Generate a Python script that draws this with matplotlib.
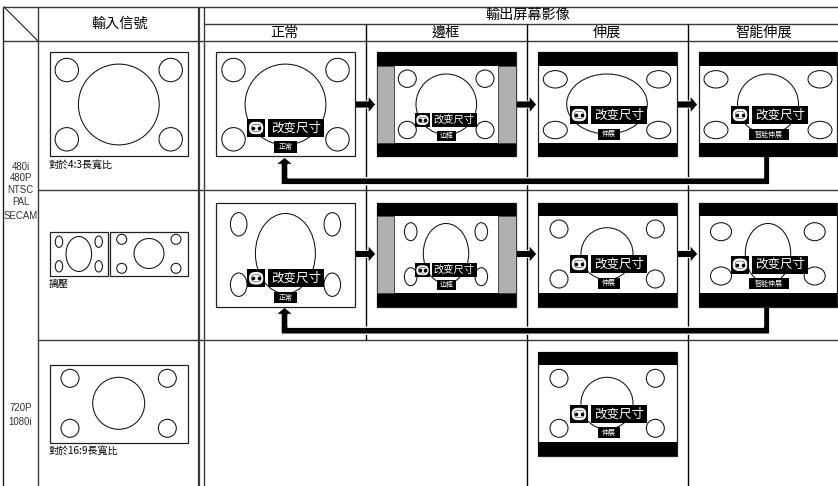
import matplotlib
matplotlib.use('Agg')
import matplotlib.pyplot as plt
from matplotlib.patches import Rectangle, Ellipse, FancyBboxPatch, Polygon

CJK = ['Noto Sans CJK TC', 'DejaVu Sans']
CJK_SC = ['Noto Sans CJK SC', 'DejaVu Sans']
LATIN = 'Liberation Sans'
GREY = '#3a3a3a'

# text
input_header = '輸入信號'
output_header = '輸出屏幕影像'
mode_names = ['正常', '邊框', '伸展', '智能伸展']
mode_tags = ['正常', '边框', '伸展', '智能伸展']
resize_label = '改变尺寸'
row_signals = [('480i', 166.5), ('480P', 178), ('NTSC', 190), ('PAL', 202), ('SECAM', 216), ('720P', 408), ('1080i', 421.5)]
captions = [('對於4:3長寬比', 165), ('摛壓', 283.5), ('對於16:9長寬比', 451)]

# grid, in pixels of the picture
col_x = [204, 365.5, 526.5, 687.5, 838]
row_y = [41, 190.5, 340]

# source frames: frame box, then big (cx, cy, rx, ry), small (rx, ry, x1, x2, y1, y2)
src_frames = [
    ((49.5, 52.5, 187.5, 156), (118.8, 104.5, 40.4, 40.4), (11.7, 11.7, 66.8, 170.7, 70, 139.3)),
    ((49.5, 232, 107.7, 276), (78.8, 254, 12.8, 17.5), (3.7, 5.7, 59, 98.7, 241.7, 266.3)),
    ((110, 232, 187.5, 276), (149, 253.5, 15, 15), (5, 5, 121.7, 176, 239.3, 268.3)),
    ((49.5, 364.5, 187.5, 442.5), (118.7, 403.3, 26, 26), (9, 9, 70, 167.3, 378.3, 428.3)),
]

# output frames: column, frame top, big, small, overlay y (icon top, tag top, tag bottom)
out_frames = [
    (0, 52.5, (285.5, 104.5, 40.4, 40.4), (11.7, 11.7, 233.5, 337.5, 70, 139.3), (119, 141.3, 153)),
    (1, 52.5, (446.3, 104.3, 30.3, 30.3), (9, 8.7, 407.3, 485, 78.7, 130), (113, 131, 141)),
    (2, 52.5, (607, 104, 40.3, 30), (12, 8.7, 555.3, 658.7, 79.3, 130), (106, 129, 139.5)),
    (3, 52.5, (768, 104, 30.5, 30), (12, 8.7, 716, 820, 79.3, 130), (106, 129, 140)),
    (0, 202.7, (285.4, 253.5, 30, 40), (8.3, 11.7, 238.7, 332.3, 224.3, 284.7), (269.3, 292, 303.3)),
    (1, 202.7, (446, 253.5, 22.7, 30), (6.3, 9, 410.7, 481.3, 231.7, 276.7), (263.3, 280, 290)),
    (2, 202.7, (607, 253.7, 26, 26), (9, 9, 559, 655.3, 229, 279), (255, 278, 288.7)),
    (3, 202.7, (768, 253.5, 22.7, 30), (10.5, 9, 721, 814.7, 231.7, 276), (255.7, 278.3, 288.7)),
    (2, 351.7, (607, 403.3, 26, 26), (9, 9, 559, 655.3, 378.3, 428.3), (405, 427.3, 438)),
]

# per column: frame x0, x1, icon x0, x1, label x0, x1, tag x0, x1
col_frames = [
    (216.3, 354.5, 247.3, 265, 268, 324, 274, 296.7),
    (376.7, 515.7, 415, 430, 432, 476.7, 437, 456),
    (537.7, 676.5, 570, 588, 591, 646.7, 597.5, 620),
    (698.7, 837.3, 731, 749, 752, 808, 749.3, 789),
]

fig = plt.figure(figsize=(8.38, 4.86), dpi=100)
ax = fig.add_axes([0, 0, 1, 1])
ax.set_xlim(0, 838)
ax.set_ylim(486, 0)
ax.axis('off')


def hline(x0, x1, y, color=GREY, lw=1.0):
    ax.plot([x0, x1], [y, y], color=color, lw=lw, solid_capstyle='butt', zorder=1)


def vline(x, y0, y1, color=GREY, lw=1.0):
    ax.plot([x, x], [y0, y1], color=color, lw=lw, solid_capstyle='butt', zorder=1)


def rings(big, small):
    cx, cy, rx, ry = big
    ax.add_patch(Ellipse((cx, cy), rx * 2, ry * 2, fc='none', ec='#111111', lw=0.75, zorder=4))
    srx, sry, x1, x2, y1, y2 = small
    for x in (x1, x2):
        for y in (y1, y2):
            ax.add_patch(Ellipse((x, y), srx * 2, sry * 2, fc='none', ec='#111111', lw=0.75, zorder=4))


def box(x0, y0, x1, y1, fc='black', ec='none', lw=0, z=5):
    ax.add_patch(Rectangle((x0, y0), x1 - x0, y1 - y0, fc=fc, ec=ec, lw=lw, zorder=z))


def icon(x0, y0, x1, y1):
    box(x0, y0, x1, y1, z=6)
    w = x1 - x0
    h = y1 - y0
    cx = (x0 + x1) / 2
    cy = (y0 + y1) / 2
    ax.add_patch(FancyBboxPatch((cx - w * 0.38, cy - h * 0.32), w * 0.76, h * 0.64,
                                boxstyle='round,pad=0,rounding_size=%f' % (h * 0.3),
                                fc='white', ec='white', lw=0.6, zorder=7))
    ax.add_patch(FancyBboxPatch((cx - w * 0.26, cy - h * 0.2), w * 0.52, h * 0.4,
                                boxstyle='round,pad=0,rounding_size=%f' % (h * 0.18),
                                fc='white', ec='#555555', lw=0.5, zorder=8))
    ax.plot([cx - w * 0.17, cx + w * 0.17], [cy, cy], ls='none', marker='o', ms=1.6, color='black', zorder=9)


def right_arrow(x0, x1, y):
    head = 7.5
    t = 3.5
    pts = [(x0, y - t), (x1 - head, y - t), (x1 - head, y - 8.5), (x1, y), (x1 - head, y + 8.5), (x1 - head, y + t), (x0, y + t)]
    ax.add_patch(Polygon(pts, closed=True, fc='black', ec='white', lw=0.6, zorder=3))


def back_arrow(xr, xl, y_top, y_bend, y_tip):
    # runs down from the last frame, left under the row, up into the first frame
    t = 3.5
    pts = [(xr + 5.3 + 0.5, y_top), (xr + 5.3 + 0.5, y_bend + t), (xl - t, y_bend + t), (xl - t, y_tip + 7),
           (xl - 9, y_tip + 7), (xl, y_tip - 0.5), (xl + 9, y_tip + 7), (xl + t, y_tip + 7),
           (xl + t, y_bend - t), (xr - 0.5, y_bend - t), (xr - 0.5, y_top)]
    ax.add_patch(Polygon(pts, closed=True, fc='black', ec='white', lw=1.0, zorder=3, joinstyle='miter'))


# table lines
hline(3, 838, 7)
hline(204, 838, 24)
hline(3, 838, 41)
hline(38, 838, row_y[1])
hline(38, 838, row_y[2])
vline(3.3, 7, 486, color='#222222')
vline(38, 7, 486)
vline(199.3, 7, 486, lw=1.6)
vline(204.3, 7, 486)
for x in col_x[1:4]:
    vline(x, 24, 340, color='black')
for x in col_x[2:4]:
    vline(x, 340, 486, color='black')
ax.plot([4, 38], [7, 41], color='#222222', lw=0.8, zorder=1)

# headers
ax.text(119.5, 24, input_header, family=CJK, fontsize=10.2, ha='center', va='center', color='black')
ax.text(528, 15, output_header, family=CJK, fontsize=10.2, ha='center', va='center', color='black')
for i in range(4):
    ax.text((col_x[i] + col_x[i + 1]) / 2 + (1 if i == 3 else 0), 32.7, mode_names[i], family=CJK, fontsize=10.2,
            ha='center', va='center', color='black')

for txt, y in row_signals:
    ax.text(20.5, y, txt, family=LATIN, fontsize=6.9, ha='center', va='center', color='#333333')
for txt, y in captions:
    ax.text(49, y, txt, family=CJK, fontsize=7.2, ha='left', va='center', color='black')

# source frames
for (x0, y0, x1, y1), big, small in src_frames:
    box(x0, y0, x1, y1, fc='white', ec='#222222', lw=0.9, z=2)
    rings(big, small)

# back arrows and step arrows go under the frames
for y_top, y_bend, y_tip in [(156, 181.3, 157.5), (306, 330.7, 307.5)]:
    back_arrow(764, 284.5, y_top, y_bend, y_tip)
for y in (104.5, 254):
    right_arrow(col_frames[0][1], col_frames[1][0] - 1, y)
    right_arrow(col_frames[1][1], col_frames[2][0] - 1, y)
    right_arrow(col_frames[2][1], col_frames[3][0] - 1, y)

# output frames
for col, top, big, small, (icon_y, tag_y0, tag_y1) in out_frames:
    x0, x1, ix0, ix1, lx0, lx1, tx0, tx1 = col_frames[col]
    bottom = top + 104
    box(x0, top, x1, bottom, fc='white', ec='#222222', lw=0.9, z=4)
    if col > 0:
        box(x0, top, x1, top + 13.5, z=4)
        box(x0, bottom - 13.5, x1, bottom, z=4)
    if col == 1:
        box(x0, top + 13.5, 394.3, bottom - 13.5, fc='#b0b0b0', ec='#333333', lw=0.6, z=4)
        box(497.7, top + 13.5, x1, bottom - 13.5, fc='#b0b0b0', ec='#333333', lw=0.6, z=4)
    rings(big, small)
    h = 14 if col == 1 else 18
    icon(ix0, icon_y, ix1, icon_y + h)
    box(lx0, icon_y, lx1, icon_y + h, z=6)
    ax.text((lx0 + lx1) / 2, icon_y + h / 2, resize_label, family=CJK_SC,
            fontsize=7.4 if col == 1 else 9, ha='center', va='center', color='white', zorder=7)
    box(tx0, tag_y0, tx1, tag_y1, z=6)
    ax.text((tx0 + tx1) / 2, (tag_y0 + tag_y1) / 2, mode_tags[col], family=CJK_SC,
            fontsize=5, ha='center', va='center', color='white', zorder=7)

fig.savefig('out.png', dpi=100)
